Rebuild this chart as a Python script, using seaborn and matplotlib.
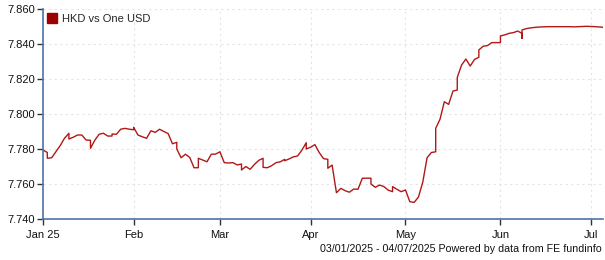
import numpy as np
import pandas as pd
import matplotlib
matplotlib.use("Agg")
import matplotlib.pyplot as plt
from matplotlib.patches import Patch
import seaborn as sns

# ---------------- data (one value per calendar day, 03/01/2025 - 04/07/2025) ----------------
start_date = "2025-01-03"
end_date = "2025-07-04"
series_label = "HKD vs One USD"
footer = "03/01/2025 - 04/07/2025 Powered by data from FE fundinfo"
month_labels = ["Jan 25", "Feb", "Mar", "Apr", "May", "Jun", "Jul"]
month_starts = ["2025-01-01", "2025-02-01", "2025-03-01", "2025-04-01",
                "2025-05-01", "2025-06-01", "2025-07-01"]

# Fri 3 Jan, then weeks Sat..Fri
hkd = [
    7.7794,
    7.7780, 7.7780, 7.7747, 7.7750, 7.7785, 7.7820, 7.7862,
    7.7890, 7.7890, 7.7857, 7.7867, 7.7880, 7.7880, 7.7851,
    7.7850, 7.7850, 7.7804, 7.7850, 7.7884, 7.7890, 7.7874,
    7.7874, 7.7874, 7.7886, 7.7884, 7.7913, 7.7918, 7.7913,
    7.7910, 7.7910, 7.7924, 7.7880, 7.7870, 7.7861, 7.7904,
    7.7895, 7.7895, 7.7895, 7.7913, 7.7900, 7.7888, 7.7830,
    7.7838, 7.7838, 7.7800, 7.7750, 7.7770, 7.7752, 7.7693,
    7.7693, 7.7693, 7.7747, 7.7737, 7.7727, 7.7770, 7.7771,
    7.7784, 7.7784, 7.7784, 7.7722, 7.7720, 7.7722, 7.7709,
    7.7714, 7.7714, 7.7680, 7.7700, 7.7684, 7.7712, 7.7735,
    7.7747, 7.7747, 7.7695, 7.7693, 7.7705, 7.7722, 7.7727,
    7.7741, 7.7741, 7.7733, 7.7743, 7.7755, 7.7760, 7.7794,
    7.7836, 7.7836, 7.7800, 7.7810, 7.7825, 7.7780, 7.7745,
    7.7741, 7.7741, 7.7690, 7.7708, 7.7550, 7.7575, 7.7562,
    7.7553, 7.7553, 7.7553, 7.7571, 7.7570, 7.7633, 7.7633,
    7.7633, 7.7633, 7.7600, 7.7581, 7.7594, 7.7585, 7.7565,
    7.7556, 7.7556, 7.7585, 7.7570, 7.7556, 7.7566, 7.7499,
    7.7495, 7.7495, 7.7495, 7.7525, 7.7610, 7.7750, 7.7780,
    7.7784, 7.7784, 7.7918, 7.7970, 7.8070, 7.8055, 7.8131,
    7.8137, 7.8137, 7.8209, 7.8280, 7.8314, 7.8274, 7.8312,
    7.8324, 7.8324, 7.8366, 7.8387, 7.8391, 7.8408, 7.8408,
    7.8408, 7.8408, 7.8446, 7.8452, 7.8461, 7.8465, 7.8474,
    7.8461, 7.8432, 7.8480, 7.8488, 7.8492, 7.8495, 7.8497,
    7.8498, 7.8498, 7.8498, 7.8499, 7.8499, 7.8499, 7.8499,
    7.8499, 7.8499, 7.8499, 7.8499, 7.8498, 7.8499, 7.8500,
    7.8501, 7.8501, 7.8501, 7.8500, 7.8499, 7.8497, 7.8495,
]

# ---------------- build frame: business-day axis (weekends collapse onto Monday) ----------------
dates = pd.date_range(start_date, end_date, freq="D")
d64 = dates.values.astype("datetime64[D]")
s64 = np.datetime64(start_date)
bpos = np.busday_count(s64, d64)
df = pd.DataFrame({"date": dates, "pos": bpos, "value": hkd})

ms = np.array(month_starts, dtype="datetime64[D]")
tick_pos = np.clip(np.busday_count(s64, np.busday_offset(ms, 0, roll="forward")), 0, None)
last_pos = np.busday_count(s64, np.datetime64(end_date))

# ---------------- style ----------------
sns.set_style("white")
plt.rcParams["font.family"] = ["Liberation Sans", "DejaVu Sans"]
plt.rcParams["font.size"] = 8

axis_blue = "#4a76a8"
line_red = "#b01818"
grid_col = "#e4e4e4"

fig = plt.figure(figsize=(6.05, 2.6), dpi=100)
ax = fig.add_axes([43 / 605, 1 - 219 / 260, (602.7 - 43) / 605, (219 - 9) / 260])

sns.lineplot(data=df, x="pos", y="value", estimator=None, sort=False,
             color=line_red, linewidth=1.0, ax=ax, legend=False)

ax.set_xlim(0, last_pos - 0.3)
ax.set_ylim(7.740, 7.860)
yt = np.round(np.arange(7.740, 7.8601, 0.020), 3)
ax.set_yticks(yt)
ax.set_yticklabels([f"{v:.3f}" for v in yt])
ax.set_xticks(tick_pos)
ax.set_xticklabels(month_labels)
ax.set_xlabel("")
ax.set_ylabel("")

ax.grid(True, color=grid_col, linestyle=(0, (2, 3)), linewidth=0.8)
ax.set_axisbelow(True)

for side in ["top", "right"]:
    ax.spines[side].set_visible(False)
for side in ["left", "bottom"]:
    ax.spines[side].set_color(axis_blue)
    ax.spines[side].set_linewidth(1.2)

ax.tick_params(axis="both", which="major", length=4, width=1, color="#333333",
               labelsize=8, labelcolor="#111111", direction="out", pad=2,
               left=True, bottom=True)
ax.tick_params(axis="x", pad=4)

handle = Patch(facecolor="#9c0000", edgecolor="#9c0000", label=series_label)
ax.legend(handles=[handle], loc="upper left", bbox_to_anchor=(0, 1), frameon=False,
          fontsize=8, handlelength=0.9, handleheight=0.9, handletextpad=0.4,
          borderaxespad=0, borderpad=0.4)

fig.text(602 / 605, 1 - 249 / 260, footer, ha="right", va="center",
         fontsize=7.7, color="#111111")

fig.savefig("out.png", dpi=100, facecolor="white")
